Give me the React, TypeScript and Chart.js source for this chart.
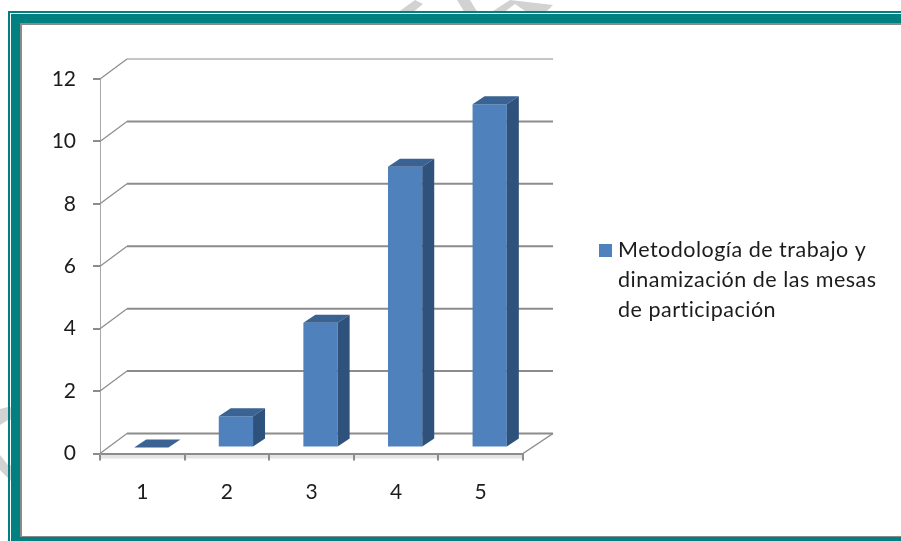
import React, { useEffect, useRef } from "react";
import { Chart, registerables } from "chart.js";

Chart.register(...registerables);

const categories = ["1", "2", "3", "4", "5"];
const seriesName = ["Metodología de trabajo y", "dinamización de las mesas", "de participación"];
const seriesValues = [0, 1, 4, 9, 11];
const FONT = "Lato, sans-serif";
const INK = "#1c1c1c";
const GRID = "#8c8c8c";
const FRONT = "#4f81bd";
const TOP = "#3a6292";
const SIDE = "#2f527c";
const TEAL = "#008080";

// Faint hatched stamp fragments showing around the frame.
const stampPieces: number[][] = [
  [397, 13, 415, 0, 423, 4, 412, 13],
  [457, 0, 470, 0, 478, 13, 465, 13],
  [490, 13, 510, 0, 553, 5, 545, 13, 528, 13, 515, 4, 503, 13],
  [0, 409, 8, 407, 21, 407, 21, 420, 8, 420, 0, 425],
  [0, 455, 8, 465, 21, 465, 21, 490, 10, 480, 0, 470],
];

const framePlugin = {
  id: "frame",
  beforeDraw(chart: any) {
    const { ctx, width: w, height: h, chartArea: a } = chart;
    ctx.save();
    ctx.fillStyle = "#fff";
    ctx.fillRect(0, 0, w, h);
    ctx.fillStyle = "#d2d2d2";
    for (const p of stampPieces) {
      ctx.beginPath();
      ctx.moveTo(p[0], p[1]);
      for (let i = 2; i < p.length; i += 2) ctx.lineTo(p[i], p[i + 1]);
      ctx.closePath();
      ctx.fill();
    }
    ctx.fillStyle = "#fff";
    ctx.fillRect(21, 25, w - 21, h - 25);
    ctx.fillStyle = TEAL;
    ctx.fillRect(8, 11, w - 8, 2);
    ctx.fillRect(8, 11, 2, h - 11);
    ctx.fillRect(11, 14, w - 11, 9);
    ctx.fillRect(11, 14, 9, h - 14);
    ctx.fillRect(11, 537, w - 11, 4);
    ctx.fillStyle = "#8a8a8a";
    ctx.fillRect(20, 23, w - 20, 2);
    ctx.fillRect(20, 23, 2, 514);
    ctx.fillRect(20, 536, w - 20, 1);
    // Pale front edge of the floor, under the axis ticks.
    ctx.fillStyle = "#e4e4e4";
    ctx.fillRect(a.left + 1, a.bottom + 1, a.right - a.left - 1, 4);
    ctx.restore();
  },
};

// Back wall, floor and side depth of the pseudo-3D plot box.
const DEPTH_X = 27;
const DEPTH_Y = 20;
const WALL_RIGHT = 553;
const wallPlugin = {
  id: "wall",
  beforeDatasetsDraw(chart: any) {
    const { ctx, chartArea: a, scales } = chart;
    const y = scales.y;
    ctx.save();
    ctx.strokeStyle = GRID;
    y.ticks.forEach((t: any, i: number) => {
      const py = y.getPixelForValue(t.value);
      ctx.lineWidth = i === y.ticks.length - 1 ? 1 : 2;
      ctx.beginPath();
      ctx.moveTo(a.left + DEPTH_X, py - DEPTH_Y);
      ctx.lineTo(WALL_RIGHT, py - DEPTH_Y);
      ctx.stroke();
      ctx.lineWidth = 1.2;
      ctx.beginPath();
      ctx.moveTo(a.left, py);
      ctx.lineTo(a.left + DEPTH_X, py - DEPTH_Y);
      ctx.stroke();
    });
    ctx.lineWidth = 1.5;
    ctx.beginPath();
    ctx.moveTo(a.right, a.bottom);
    ctx.lineTo(WALL_RIGHT, a.bottom - DEPTH_Y);
    ctx.stroke();
    ctx.restore();
  },
};

// Bars sit slightly inside the floor; their top and side faces follow the bar elements.
const BAR_SHIFT_X = 9;
const BAR_SHIFT_Y = -6;
const FACE_X = 12;
const FACE_Y = 8;
const depthPlugin = {
  id: "depth",
  beforeDatasetsDraw(chart: any) {
    const { ctx } = chart;
    ctx.save();
    ctx.translate(BAR_SHIFT_X, BAR_SHIFT_Y);
  },
  afterDatasetsDraw(chart: any) {
    const { ctx } = chart;
    const poly = (pts: number[], fill: string) => {
      ctx.fillStyle = fill;
      ctx.beginPath();
      ctx.moveTo(pts[0], pts[1]);
      for (let i = 2; i < pts.length; i += 2) ctx.lineTo(pts[i], pts[i + 1]);
      ctx.closePath();
      ctx.fill();
    };
    chart.getDatasetMeta(0).data.forEach((bar: any) => {
      const p = bar.getProps(["x", "y", "base", "width"], true);
      const l = p.x - p.width / 2;
      const r = p.x + p.width / 2;
      poly([l, p.y, l + FACE_X, p.y - FACE_Y, r + FACE_X, p.y - FACE_Y, r, p.y], TOP);
      if (p.base > p.y) {
        poly([r, p.y, r + FACE_X, p.y - FACE_Y, r + FACE_X, p.base - FACE_Y, r, p.base], SIDE);
      }
    });
    ctx.restore();
  },
};

// Three-line series key to the right of the plot.
const keyPlugin = {
  id: "key",
  afterDraw(chart: any) {
    const { ctx } = chart;
    ctx.save();
    ctx.fillStyle = chart.data.datasets[0].backgroundColor;
    ctx.fillRect(599, 244, 13, 13);
    ctx.fillStyle = INK;
    ctx.font = `21.5px ${FONT}`;
    ctx.letterSpacing = "0.5px";
    ctx.textBaseline = "middle";
    seriesName.forEach((line, i) => ctx.fillText(line, 618, 250 + i * 30));
    ctx.restore();
  },
};

export default function App() {
  const ref = useRef<HTMLCanvasElement>(null);
  useEffect(() => {
    const chart = new Chart(ref.current!, {
      type: "bar",
      data: {
        labels: categories,
        datasets: [
          {
            label: seriesName.join(" "),
            data: seriesValues,
            backgroundColor: FRONT,
            barPercentage: 0.405,
            categoryPercentage: 1,
          },
        ],
      },
      plugins: [framePlugin, wallPlugin, depthPlugin, keyPlugin],
      options: {
        responsive: false,
        animation: false,
        layout: { padding: { left: 0, top: 79, right: 378, bottom: 0 } },
        plugins: {
          tooltip: { enabled: false },
          legend: { display: false },
        },
        scales: {
          x: {
            afterFit: (s: any) => { s.height = 87.5; },
            grid: { display: true, drawOnChartArea: false, color: GRID, lineWidth: 2, tickLength: 7, offset: true },
            border: { color: GRID, width: 2 },
            ticks: { font: { family: FONT, size: 21 }, color: INK, padding: 19 },
          },
          y: {
            min: 0,
            max: 12,
            afterFit: (s: any) => { s.width = 100; },
            grid: { display: true, drawOnChartArea: false, color: GRID, lineWidth: 2, tickLength: 7 },
            border: { color: "#a8a8a8", width: 1 },
            ticks: { stepSize: 2, font: { family: FONT, size: 21 }, color: INK, padding: 17 },
          },
        },
      },
    } as any);
    return () => chart.destroy();
  }, []);
  return (
    <div style={{ position: "fixed", left: 0, top: 0, width: 901, height: 541 }}>
      <canvas ref={ref} width={901} height={541} style={{ display: "block" }} />
    </div>
  );
}
